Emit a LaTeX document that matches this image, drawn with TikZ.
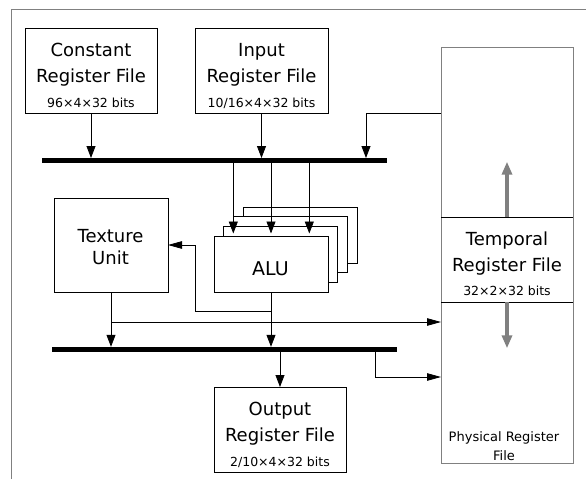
\documentclass[tikz,border=0pt]{standalone}
\usepackage{fontspec}
\setmainfont{DejaVu Sans}
\usetikzlibrary{arrows.meta}
\definecolor{framegray}{HTML}{808080}
\begin{document}
\begin{tikzpicture}[x=1pt,y=-1pt,
  regbox/.style={draw, line width=0.8pt, fill=white, inner sep=0pt, outer sep=0pt, anchor=north west},
  physbox/.style={draw=framegray, line width=0.8pt, inner sep=0pt, outer sep=0pt, anchor=north west},
  busbar/.style={fill=black, inner sep=0pt, outer sep=0pt, anchor=north west, minimum width=344.4pt, minimum height=4.8pt},
  varr/.style={line width=0.8pt, -{Triangle[length=12pt,width=9pt]}},
  harr/.style={line width=0.8pt, -{Triangle[length=14pt,width=7.5pt]}},
  garr/.style={draw=framegray, line width=3.2pt, -{Triangle[length=13pt,width=10pt]}},
  bigtxt/.style={anchor=base, inner sep=0pt, font=\fontsize{18}{22}\selectfont},
  smalltxt/.style={anchor=base, inner sep=0pt, font=\fontsize{12.5}{14}\selectfont},
  phystxt/.style={anchor=base, inner sep=0pt, font=\fontsize{13}{15}\selectfont},
]
\useasboundingbox (0,0) rectangle (586,479);

% open frame
\draw[framegray, line width=0.8pt] (11,479) -- (11,9) -- (586,9);

% physical register file with the temporal block inside
\node[physbox, minimum width=132pt, minimum height=416pt] (phys) at (441,47) {};
\node[anchor=north west, inner sep=0pt, outer sep=0pt, minimum width=132pt, minimum height=85pt] (temp) at (441,217) {};
\draw[line width=0.8pt] (temp.north west) -- (temp.north east);
\draw[line width=0.8pt] (temp.south west) -- (temp.south east);

% register files and units
\node[regbox, minimum width=132pt, minimum height=85pt] (const) at (25,28) {};
\node[regbox, minimum width=133pt, minimum height=85pt] (input) at (195,28) {};
\node[regbox, minimum width=114pt, minimum height=94pt] (tex) at (54,198) {};
\node[regbox, minimum width=132pt, minimum height=85pt] (output) at (214,387) {};

% stack of ALUs, back to front
\node[regbox, minimum width=114pt, minimum height=56pt] (alu3) at (243,207) {};
\node[regbox, minimum width=114pt, minimum height=56pt] (alu2) at (233.3,216.7) {};
\node[regbox, minimum width=114pt, minimum height=56pt] (alu1) at (223.7,226.3) {};
\node[regbox, minimum width=114pt, minimum height=56pt] (alu) at (214,236) {};

% buses
\node[busbar] (bus1) at (42.3,158) {};
\node[busbar] (bus2) at (52.3,346.8) {};

% labels
\node[bigtxt] (const-a) at (91,56) {Constant};
\node[bigtxt] (const-b) at (91,82) {Register File};
\node[smalltxt] (const-c) at (91,107) {96×4×32 bits};
\node[bigtxt] (input-a) at (261.5,56) {Input};
\node[bigtxt] (input-b) at (261.5,82) {Register File};
\node[smalltxt] (input-c) at (261.5,107) {10/16×4×32 bits};
\node[bigtxt] (tex-a) at (110.5,242) {Texture};
\node[bigtxt] (tex-b) at (110.5,264) {Unit};
\node[anchor=base, inner sep=0pt, font=\fontsize{19}{22}\selectfont] (alu-a) at (270.5,275) {ALU};
\node[bigtxt] (output-a) at (280,415) {Output};
\node[bigtxt] (output-b) at (280,441) {Register File};
\node[smalltxt] (output-c) at (280,466) {2/10×4×32 bits};
\node[bigtxt] (temp-a) at (507,245) {Temporal};
\node[bigtxt] (temp-b) at (507,271) {Register File};
\node[smalltxt] (temp-c) at (507,295) {32×2×32 bits};
\node[phystxt] (phys-a) at (504,441) {Physical Register};
\node[phystxt] (phys-b) at (504,460) {File};

% junction points
\coordinate (fb) at (366,113);
\coordinate (a3) at (309.3,0);
\coordinate (tb) at (195,311);
\coordinate (tj) at (111,322);
\coordinate (ob) at (375.7,377);
\coordinate (gu) at (507,161.7);
\coordinate (gd) at (507,348.3);

% into the upper bus
\draw[varr] (const.south) -- (const.south |- bus1.north);
\draw[varr] (input.south) -- (input.south |- bus1.north);
\draw[varr] (phys.west |- fb) -| (fb |- bus1.north);

% upper bus to the ALUs
\draw[varr, shorten >=2.5pt] (bus1.south -| alu2.west) -- (alu.north -| alu2.west);
\draw[varr, shorten >=2.5pt] (bus1.south -| alu.north) -- (alu.north);
\draw[varr, shorten >=2.5pt] (bus1.south -| a3) -- (alu.north -| a3);

% ALU outputs
\draw[varr] (alu.south) -- (alu.south |- bus2.north);
\draw[harr] (alu.south |- tb) -| (tb |- tex.east) -- (tex.east);

% texture unit outputs
\draw[varr] (tex.south) -- (tex.south |- bus2.north);
\draw[harr] (tex.south |- tj) -- (phys.west |- tj);

% lower bus outputs
\draw[varr] (bus2.south -| output.north) -- (output.north);
\draw[harr] (bus2.south -| ob) |- (phys.west |- ob);

% temporal / physical exchange
\draw[garr] (temp.north) -- (gu);
\draw[garr] (temp.south) -- (gd);
\end{tikzpicture}
\end{document}
